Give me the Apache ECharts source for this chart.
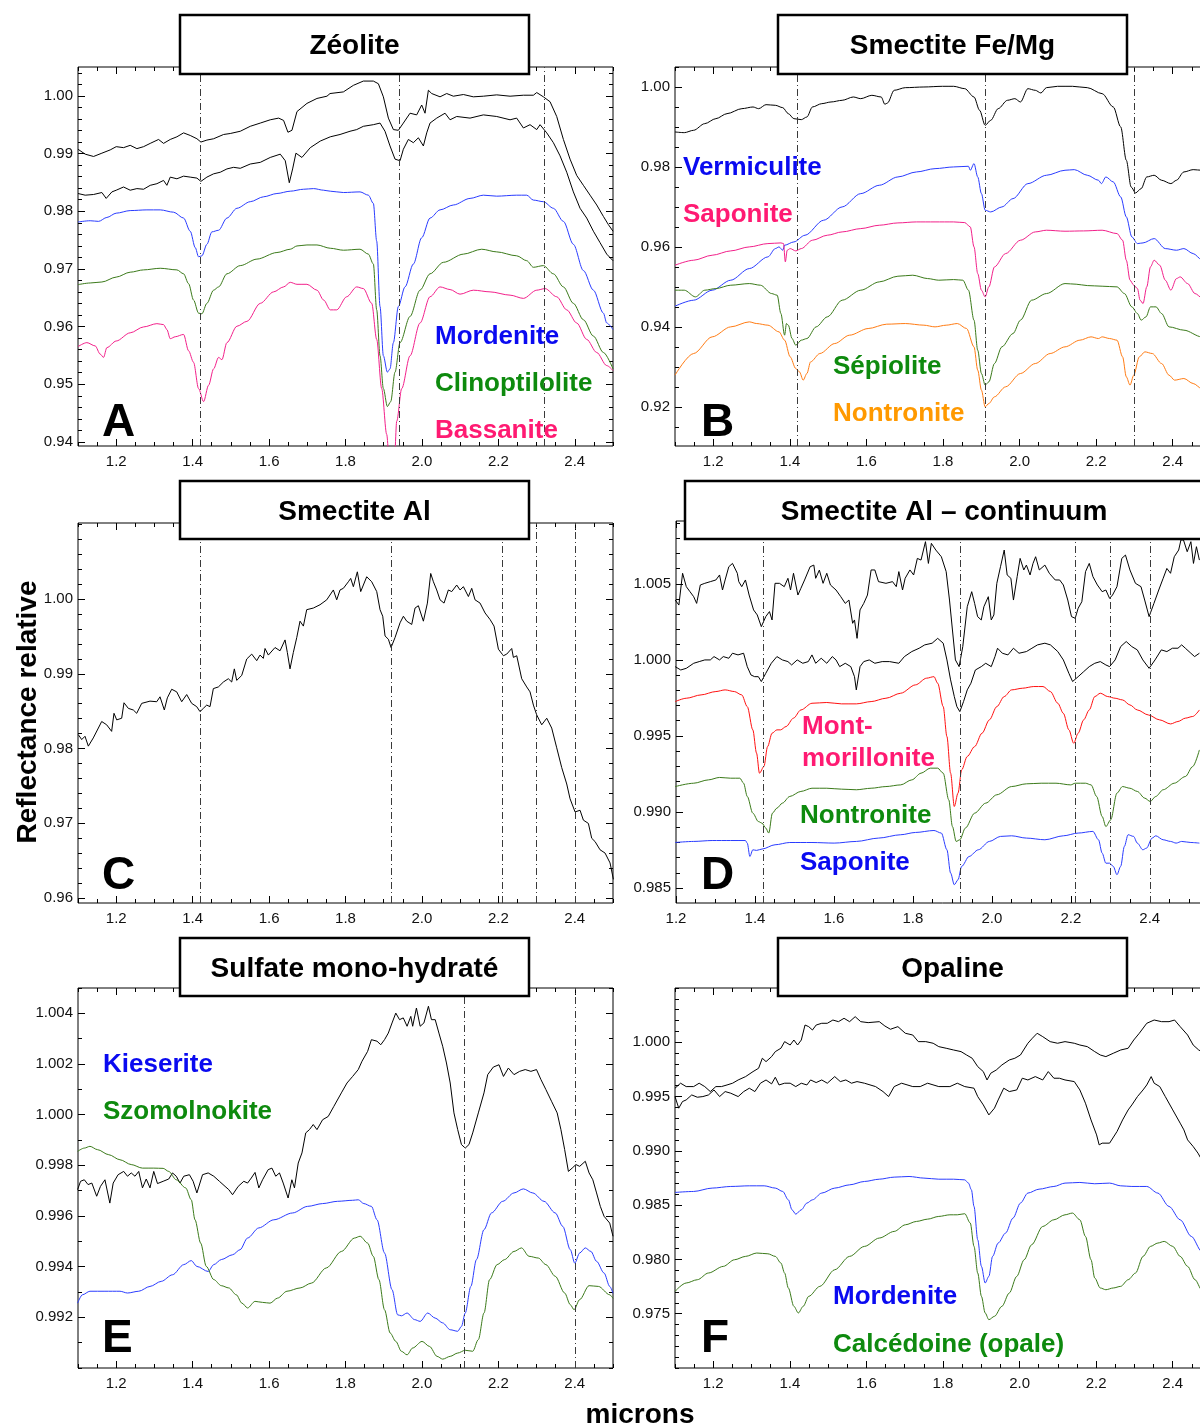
<!DOCTYPE html>
<html>
<head>
<meta charset="utf-8">
<title>Spectres</title>
<script src="https://cdn.jsdelivr.net/npm/echarts@6/dist/echarts.min.js"></script>
<style>
  html, body { margin: 0; padding: 0; background: #fff; overflow: hidden; }
  /* a bit wider than the window: panels B, D and F run past the right edge */
  #chart { width: 1216px; height: 1428px; }
</style>
</head>
<body>
<div id="chart"></div>
<script>
// ---- tick labels ----
const xLabels = [1.2, 1.4, 1.6, 1.8, 2.0, 2.2, 2.4];
const yLabelsA = [0.94, 0.95, 0.96, 0.97, 0.98, 0.99, 1.00];
const yLabelsB = [0.92, 0.94, 0.96, 0.98, 1.00];
const yLabelsC = [0.96, 0.97, 0.98, 0.99, 1.00];
const yLabelsD = [0.985, 0.990, 0.995, 1.000, 1.005];
const yLabelsE = [0.992, 0.994, 0.996, 0.998, 1.000, 1.002, 1.004];
const yLabelsF = [0.975, 0.980, 0.985, 0.990, 0.995, 1.000];

// ---- absorption band markers (microns) ----
const bandsA = [1.417, 1.939, 2.321];
const bandsB = [1.419, 1.91, 2.30];
const bandsC = [1.42, 1.92, 2.211, 2.30, 2.397];
const bandsD = [1.418, 1.919, 2.21, 2.299, 2.398];
const bandsE = [2.109, 2.405];

// ---- A : Zeolite ----
const zeoA1 = [[1.1,0.99074],[1.1188,0.98989],[1.1407,0.98949],[1.1625,0.99006],[1.1843,0.99063],[1.2,0.99119],[1.2192,0.99102],[1.2366,0.99142],[1.2541,0.99085],[1.2716,0.99119],[1.289,0.99176],[1.3108,0.99244],[1.3239,0.99176],[1.3414,0.99244],[1.3588,0.9929],[1.3763,0.99358],[1.3937,0.99313],[1.4112,0.99256],[1.4216,0.99199],[1.4373,0.99233],[1.4548,0.99256],[1.481,0.9933],[1.4984,0.99347],[1.5246,0.99386],[1.5508,0.99472],[1.577,0.99528],[1.6031,0.99585],[1.625,0.99614],[1.638,0.99574],[1.6494,0.99369],[1.6599,0.99403],[1.673,0.99727],[1.6991,0.99869],[1.7253,0.99955],[1.7515,0.99994],[1.7595,1.0004],[1.7944,1.00068],[1.8206,1.00182],[1.8467,1.00256],[1.8729,1.00256],[1.886,1.0021],[1.8991,0.99983],[1.9122,0.99614],[1.9253,0.99415],[1.9383,0.99403],[1.9514,0.99528],[1.9689,0.99699],[1.9863,0.9967],[1.9994,0.99841],[2.0081,0.99699],[2.0169,1.00097],[2.0256,1.0004],[2.0474,0.99983],[2.0648,1.0004],[2.0823,0.99994],[2.1085,1.00023],[2.1346,0.99983],[2.1608,0.99994],[2.1957,1.00017],[2.2306,0.99994],[2.2655,1.00011],[2.2917,1.00011],[2.3004,1.00057],[2.3178,0.99983],[2.3353,0.99898],[2.3527,0.99642],[2.3702,0.99244],[2.3876,0.98903],[2.4051,0.98619],[2.4225,0.98449],[2.44,0.98278],[2.4574,0.98108],[2.4749,0.97909],[2.488,0.97767],[2.5,0.97653]];
const zeoA2 = [[1.1,0.98307],[1.1188,0.98278],[1.1407,0.9829],[1.1625,0.98324],[1.1738,0.98222],[1.1887,0.98335],[1.2,0.98364],[1.2192,0.9842],[1.2366,0.98364],[1.2541,0.98392],[1.2716,0.98381],[1.289,0.98449],[1.3065,0.98477],[1.3239,0.98534],[1.3326,0.98449],[1.3414,0.98591],[1.3588,0.98562],[1.3763,0.98608],[1.3937,0.98591],[1.4112,0.98574],[1.4216,0.98517],[1.4373,0.98591],[1.4548,0.98648],[1.4723,0.98676],[1.4897,0.98733],[1.5072,0.98761],[1.5246,0.98744],[1.5508,0.98818],[1.577,0.98847],[1.6031,0.98932],[1.6293,0.98989],[1.6424,0.98875],[1.6529,0.98494],[1.6616,0.98733],[1.6703,0.99006],[1.686,0.98932],[1.7079,0.99102],[1.734,0.99216],[1.7602,0.9929],[1.7857,0.9933],[1.8118,0.99386],[1.8293,0.99415],[1.8467,0.99472],[1.8729,0.995],[1.8904,0.99528],[1.9034,0.99386],[1.9165,0.99131],[1.9296,0.98903],[1.9427,0.98875],[1.9514,0.99074],[1.9645,0.99244],[1.9776,0.99188],[1.9907,0.99273],[2.0038,0.99131],[2.0125,0.99358],[2.0212,0.99528],[2.0387,0.99614],[2.0605,0.99699],[2.0736,0.99585],[2.091,0.99642],[2.1259,0.99614],[2.1608,0.9967],[2.1957,0.99642],[2.2306,0.99585],[2.248,0.99614],[2.2655,0.99443],[2.2829,0.995],[2.3004,0.99415],[2.3091,0.995],[2.3266,0.99358],[2.344,0.99188],[2.3614,0.9896],[2.3789,0.98676],[2.3963,0.98335],[2.4138,0.98051],[2.4312,0.97881],[2.4487,0.97653],[2.4661,0.97455],[2.4836,0.97256],[2.5,0.97142]];
const mordeniteA = [[1.1,0.97813],[1.1319,0.97835],[1.1538,0.97824],[1.1756,0.97892],[1.2,0.97966],[1.2366,0.98011],[1.2803,0.98023],[1.3152,0.98023],[1.3501,0.97983],[1.3763,0.97881],[1.3937,0.97653],[1.4068,0.97369],[1.4155,0.9721],[1.4243,0.97227],[1.4373,0.97426],[1.4504,0.97642],[1.4679,0.9767],[1.4897,0.97881],[1.5159,0.98051],[1.5508,0.98165],[1.5857,0.9825],[1.6206,0.98307],[1.6555,0.98347],[1.6904,0.98381],[1.7166,0.98392],[1.7428,0.98364],[1.7602,0.98347],[1.7944,0.98324],[1.838,0.98335],[1.8598,0.98278],[1.8729,0.98136],[1.8816,0.97483],[1.8904,0.96347],[1.8991,0.95494],[1.9096,0.9521],[1.9165,0.95267],[1.9253,0.95722],[1.9383,0.96347],[1.9558,0.96688],[1.9776,0.97085],[1.9994,0.9754],[2.0212,0.97881],[2.0474,0.98023],[2.0823,0.98108],[2.1259,0.98222],[2.1608,0.98278],[2.1957,0.98261],[2.248,0.98278],[2.2742,0.98278],[2.2917,0.98193],[2.3178,0.98165],[2.344,0.98051],[2.3702,0.97824],[2.3963,0.97426],[2.4225,0.96972],[2.4487,0.96631],[2.4749,0.96233],[2.4836,0.96062],[2.5,0.95949]];
const clinoA = [[1.1,0.96727],[1.1319,0.96756],[1.1625,0.96773],[1.2,0.96858],[1.2366,0.96943],[1.2716,0.96983],[1.3152,0.97011],[1.3588,0.96983],[1.3763,0.96915],[1.3894,0.96744],[1.4024,0.9646],[1.4155,0.96233],[1.4243,0.96222],[1.4373,0.96403],[1.4548,0.96631],[1.4679,0.96688],[1.4897,0.96915],[1.5246,0.97057],[1.5682,0.9717],[1.6206,0.97284],[1.6555,0.97341],[1.673,0.97398],[1.6991,0.97415],[1.7253,0.97415],[1.7602,0.97358],[1.7944,0.97324],[1.838,0.97341],[1.8598,0.97256],[1.8729,0.97085],[1.8816,0.9629],[1.8904,0.95494],[1.8991,0.94926],[1.9096,0.94614],[1.9183,0.94699],[1.9296,0.9521],[1.9427,0.95722],[1.9689,0.96176],[1.995,0.96631],[2.0212,0.96915],[2.0561,0.97114],[2.1085,0.97256],[2.1564,0.97341],[2.1957,0.97295],[2.248,0.97227],[2.2742,0.97142],[2.2917,0.97028],[2.3178,0.97057],[2.344,0.96915],[2.3702,0.96688],[2.3963,0.96403],[2.4225,0.96119],[2.4487,0.95835],[2.4749,0.95551],[2.5,0.95267]];
const bassaniteA = [[1.1,0.95653],[1.1232,0.95722],[1.145,0.95665],[1.1581,0.95523],[1.1668,0.95466],[1.1756,0.95636],[1.2,0.9575],[1.2366,0.95892],[1.2716,0.95994],[1.3065,0.96051],[1.3239,0.96034],[1.3326,0.95949],[1.3414,0.9579],[1.3545,0.95824],[1.3763,0.95864],[1.3894,0.9558],[1.4024,0.95381],[1.4155,0.94926],[1.4286,0.94699],[1.4417,0.94983],[1.4548,0.95267],[1.4679,0.95466],[1.4766,0.95426],[1.4897,0.95722],[1.5159,0.96006],[1.5421,0.96091],[1.577,0.96403],[1.6119,0.96602],[1.638,0.96688],[1.6555,0.96767],[1.673,0.96733],[1.6991,0.96733],[1.7253,0.96631],[1.7428,0.9646],[1.7602,0.9629],[1.777,0.9629],[1.8031,0.96517],[1.8293,0.96688],[1.8467,0.96659],[1.8686,0.96403],[1.8816,0.95778],[1.8947,0.94926],[1.9078,0.94131],[1.9165,0.93449],[1.927,0.93506],[1.934,0.94358],[1.9471,0.94926],[1.9689,0.95494],[1.995,0.96062],[2.0212,0.96517],[2.0474,0.96688],[2.0736,0.96642],[2.0997,0.96562],[2.1346,0.96631],[2.1783,0.96602],[2.2306,0.96545],[2.2655,0.96489],[2.3004,0.96631],[2.3222,0.96659],[2.3527,0.96517],[2.3789,0.9629],[2.4051,0.96062],[2.4312,0.95778],[2.4574,0.95551],[2.4836,0.95324],[2.5,0.95239]];

// ---- B : Smectite Fe/Mg ----
const femgB = [[1.1,0.98875],[1.1243,0.98858],[1.1486,0.98917],[1.1777,0.99083],[1.2068,0.99208],[1.2359,0.99333],[1.2747,0.99458],[1.3038,0.995],[1.3184,0.99458],[1.3378,0.99558],[1.362,0.99542],[1.3814,0.99483],[1.396,0.99333],[1.4105,0.99208],[1.4299,0.99183],[1.4445,0.9925],[1.459,0.995],[1.4833,0.99583],[1.5075,0.99625],[1.5366,0.99667],[1.5657,0.9975],[1.5851,0.99708],[1.6142,0.99792],[1.6385,0.9975],[1.6482,0.99567],[1.655,0.996],[1.6725,0.99917],[1.7016,0.99983],[1.7501,1.0],[1.7986,1.00017],[1.8277,1.00017],[1.8568,0.99958],[1.881,0.9975],[1.8956,0.99417],[1.9101,0.99042],[1.9247,0.99167],[1.9441,0.99458],[1.9683,0.99667],[1.9877,0.99708],[2.0023,0.99625],[2.0217,0.99958],[2.0411,0.99917],[2.0557,0.9985],[2.0702,0.99983],[2.0993,1.00017],[2.1381,1.00017],[2.1769,0.99983],[2.2157,0.99833],[2.2448,0.995],[2.2642,0.99],[2.2788,0.98167],[2.2914,0.975],[2.303,0.9735],[2.3176,0.97458],[2.3322,0.9775],[2.3515,0.97792],[2.371,0.97667],[2.3952,0.97583],[2.4098,0.97667],[2.4292,0.97875],[2.4534,0.97933],[2.4757,0.97917],[2.5,0.9785]];
const vermiculiteB = [[1.1,0.94517],[1.1486,0.94667],[1.1971,0.94917],[1.2456,0.95167],[1.2941,0.95458],[1.3426,0.9575],[1.362,0.95958],[1.3717,0.96],[1.3814,0.95917],[1.3863,0.96042],[1.4105,0.96125],[1.4396,0.96292],[1.4881,0.96667],[1.5366,0.97],[1.5851,0.97333],[1.6336,0.97542],[1.6822,0.9775],[1.7307,0.97875],[1.7792,0.97958],[1.8277,0.98],[1.8665,0.98017],[1.8713,0.97917],[1.881,0.98083],[1.8907,0.9775],[1.9004,0.97333],[1.9101,0.96917],[1.9247,0.96875],[1.9538,0.97],[1.9829,0.97208],[2.0217,0.97583],[2.0702,0.97792],[2.1187,0.97917],[2.143,0.97933],[2.1769,0.97792],[2.206,0.97667],[2.2138,0.97583],[2.2254,0.9775],[2.2448,0.97625],[2.2642,0.9725],[2.2788,0.9675],[2.2933,0.9625],[2.3079,0.96083],[2.3225,0.961],[2.3515,0.96208],[2.3806,0.95958],[2.4098,0.95917],[2.4292,0.95958],[2.4534,0.95833],[2.4757,0.95683],[2.5,0.9555]];
const saponiteB = [[1.1,0.95542],[1.1486,0.95667],[1.1971,0.95792],[1.2456,0.959],[1.2941,0.96],[1.3426,0.96083],[1.3766,0.961],[1.3834,0.96083],[1.3882,0.95625],[1.3931,0.95917],[1.4008,0.95958],[1.4154,0.959],[1.4299,0.95958],[1.459,0.96167],[1.4978,0.96292],[1.5366,0.96375],[1.5851,0.96458],[1.6336,0.96542],[1.6822,0.966],[1.7307,0.96625],[1.7792,0.96625],[1.8277,0.96625],[1.8568,0.96608],[1.8713,0.965],[1.881,0.96],[1.8907,0.95333],[1.9004,0.94917],[1.9101,0.9475],[1.9198,0.95],[1.9344,0.955],[1.9635,0.95833],[2.0023,0.96167],[2.0411,0.96375],[2.0702,0.96417],[2.1187,0.96392],[2.1672,0.964],[2.2157,0.96417],[2.2545,0.96333],[2.2691,0.96167],[2.2788,0.95667],[2.2885,0.95167],[2.2982,0.95042],[2.3079,0.94958],[2.3147,0.94667],[2.3225,0.94583],[2.3322,0.95],[2.3419,0.955],[2.3515,0.95667],[2.3661,0.95542],[2.3806,0.95167],[2.3952,0.94917],[2.4098,0.95208],[2.4195,0.9525],[2.4389,0.95083],[2.4583,0.94833],[2.4757,0.94733],[2.5,0.9465]];
const sepioliteB = [[1.1,0.94917],[1.1243,0.94917],[1.1534,0.9475],[1.1777,0.94917],[1.2068,0.94958],[1.2456,0.95042],[1.2941,0.95083],[1.3232,0.95042],[1.3523,0.94833],[1.3669,0.94792],[1.3766,0.94333],[1.3863,0.93792],[1.3911,0.94083],[1.396,0.94042],[1.4057,0.93708],[1.4154,0.93542],[1.4299,0.93667],[1.4445,0.93708],[1.4687,0.94],[1.4978,0.9425],[1.5366,0.94667],[1.5851,0.94917],[1.6336,0.95125],[1.6822,0.95267],[1.721,0.95292],[1.7598,0.95208],[1.7889,0.95167],[1.8277,0.95183],[1.8519,0.95167],[1.8665,0.94917],[1.881,0.94167],[1.8907,0.93417],[1.9004,0.92833],[1.9101,0.92542],[1.9198,0.92625],[1.9344,0.93083],[1.9538,0.935],[1.9829,0.93833],[2.0023,0.94167],[2.0314,0.94667],[2.0702,0.94833],[2.1187,0.95083],[2.1478,0.95067],[2.1769,0.95033],[2.2157,0.95017],[2.2545,0.95],[2.2739,0.94833],[2.2933,0.945],[2.3079,0.94333],[2.3176,0.94167],[2.3302,0.9425],[2.3419,0.945],[2.3564,0.945],[2.371,0.94333],[2.3904,0.94],[2.4292,0.93917],[2.4757,0.9375],[2.5,0.9368]];
const nontroniteB = [[1.1,0.92792],[1.1486,0.93333],[1.1971,0.9375],[1.2456,0.94],[1.2941,0.94125],[1.3135,0.94083],[1.3426,0.94042],[1.3717,0.93875],[1.3863,0.93667],[1.4008,0.9325],[1.4154,0.92958],[1.4251,0.92875],[1.4348,0.92667],[1.4445,0.92833],[1.4542,0.93125],[1.4784,0.93333],[1.5172,0.93583],[1.556,0.93792],[1.6045,0.93958],[1.653,0.94067],[1.7016,0.94083],[1.7501,0.94042],[1.7792,0.94],[1.8083,0.94042],[1.8374,0.94083],[1.8616,0.93958],[1.881,0.935],[1.8907,0.92917],[1.9004,0.92417],[1.9101,0.92],[1.9198,0.92083],[1.9344,0.9225],[1.9635,0.925],[2.0023,0.92833],[2.0411,0.93083],[2.0799,0.93333],[2.1187,0.935],[2.1575,0.93667],[2.1866,0.9375],[2.206,0.93708],[2.2157,0.9375],[2.2351,0.93708],[2.2545,0.93667],[2.2691,0.9325],[2.2788,0.9275],[2.2885,0.92542],[2.2982,0.92792],[2.3127,0.9325],[2.3273,0.93375],[2.3467,0.93333],[2.371,0.93083],[2.3904,0.92792],[2.4049,0.92667],[2.4292,0.92708],[2.4534,0.92583],[2.4757,0.92458],[2.5,0.9238]];

// ---- C : Smectite Al ----
const smAlC = [[1.1008,0.98185],[1.1097,0.98119],[1.1183,0.98163],[1.127,0.98031],[1.14,0.98141],[1.162,0.98361],[1.175,0.98317],[1.188,0.98229],[1.1942,0.98471],[1.2013,0.98383],[1.2143,0.98405],[1.2204,0.98612],[1.2317,0.98537],[1.2448,0.98515],[1.2536,0.98471],[1.2667,0.98604],[1.2884,0.98634],[1.306,0.98626],[1.3146,0.98692],[1.3259,0.98515],[1.3338,0.98678],[1.3452,0.98793],[1.3583,0.98758],[1.3714,0.98626],[1.3844,0.98722],[1.3975,0.98604],[1.4106,0.9856],[1.4193,0.98493],[1.428,0.98537],[1.4368,0.98581],[1.4455,0.9856],[1.4542,0.98802],[1.4673,0.98824],[1.4804,0.9889],[1.4934,0.98934],[1.5022,0.9889],[1.5091,0.99066],[1.5153,0.98912],[1.5284,0.98978],[1.5415,0.99198],[1.5546,0.99264],[1.5677,0.99176],[1.5763,0.99251],[1.585,0.99207],[1.5894,0.99339],[1.5981,0.99251],[1.6156,0.99352],[1.6287,0.99308],[1.6418,0.99454],[1.6478,0.99286],[1.6548,0.99066],[1.6635,0.99286],[1.6724,0.99485],[1.681,0.99705],[1.6898,0.99639],[1.6985,0.99859],[1.7159,0.99881],[1.7333,0.99925],[1.7509,0.99991],[1.7682,1.00123],[1.777,0.99991],[1.7857,1.00123],[1.7944,1.00145],[1.8075,1.00233],[1.8136,1.00278],[1.8206,1.00167],[1.831,1.00366],[1.8398,1.00101],[1.8555,1.003],[1.8686,1.00233],[1.8817,1.00101],[1.8904,0.99859],[1.8974,0.99771],[1.9035,0.99507],[1.9122,0.99463],[1.9192,0.99352],[1.9296,0.99485],[1.9427,0.99683],[1.9515,0.99771],[1.9602,0.99705],[1.9733,0.99661],[1.982,0.99881],[1.9907,0.99912],[2.0038,0.99705],[2.0143,0.99947],[2.023,1.00344],[2.03,1.00233],[2.0387,1.00123],[2.0474,0.99991],[2.0579,0.99947],[2.0692,1.00123],[2.078,1.00101],[2.091,1.00189],[2.0998,1.00123],[2.1085,1.00167],[2.1216,1.00035],[2.1303,1.00145],[2.139,0.99991],[2.1521,0.99947],[2.1652,0.99815],[2.1783,0.99727],[2.1887,0.99639],[2.2001,0.9933],[2.2132,0.99242],[2.2219,0.99264],[2.235,0.99339],[2.2393,0.9922],[2.2481,0.99242],[2.2611,0.98934],[2.2742,0.98824],[2.2829,0.98758],[2.2917,0.98581],[2.3004,0.98449],[2.3135,0.98317],[2.3266,0.98405],[2.3396,0.98273],[2.3527,0.98009],[2.3658,0.97744],[2.3789,0.97524],[2.3876,0.97326],[2.4007,0.9715],[2.4138,0.97172],[2.4225,0.9704],[2.4356,0.96996],[2.4443,0.96797],[2.453,0.96753],[2.4661,0.96643],[2.4792,0.96599],[2.4923,0.96467],[2.501,0.96247]];

// ---- D : Smectite Al - continuum ----
const contD1 = [[1.198,1.00394],[1.2073,1.00361],[1.2167,1.0057],[1.2261,1.00482],[1.2354,1.00449],[1.2448,1.00416],[1.2523,1.00372],[1.2616,1.00493],[1.2729,1.00504],[1.2869,1.00515],[1.301,1.00526],[1.3103,1.00559],[1.3178,1.0046],[1.3244,1.00526],[1.3337,1.00613],[1.3431,1.00635],[1.3553,1.0057],[1.359,1.00515],[1.3665,1.00482],[1.3759,1.00526],[1.3852,1.00427],[1.3965,1.00329],[1.4058,1.00296],[1.4161,1.00219],[1.4274,1.00285],[1.4367,1.00318],[1.4433,1.00263],[1.4508,1.00504],[1.462,1.00504],[1.4742,1.00482],[1.4835,1.00537],[1.4901,1.0046],[1.4976,1.0057],[1.5088,1.00427],[1.5163,1.00471],[1.5257,1.00526],[1.5397,1.00613],[1.5491,1.00624],[1.5538,1.00537],[1.5631,1.00591],[1.5725,1.00504],[1.5819,1.0057],[1.5912,1.00493],[1.6053,1.0046],[1.6174,1.00416],[1.6287,1.00372],[1.638,1.00394],[1.6474,1.00241],[1.6521,1.00263],[1.6586,1.00142],[1.6661,1.00329],[1.6755,1.00372],[1.6849,1.00427],[1.6942,1.00592],[1.7036,1.00592],[1.7129,1.00515],[1.7317,1.00504],[1.7485,1.00515],[1.7579,1.00482],[1.7644,1.00581],[1.7738,1.0046],[1.7804,1.00537],[1.7925,1.00592],[1.8019,1.00559],[1.8113,1.00668],[1.8206,1.00657],[1.8319,1.00778],[1.8393,1.00635],[1.8468,1.00767],[1.8581,1.00723],[1.8721,1.00679],[1.8843,1.00581],[1.8927,1.00394],[1.9002,1.00197],[1.9077,1.0],[1.9171,0.99956],[1.9264,1.00088],[1.9377,1.0035],[1.949,1.00449],[1.9564,1.00372],[1.9639,1.00285],[1.9732,1.00263],[1.9798,1.0035],[1.991,1.00416],[1.9985,1.00263],[2.0051,1.00296],[2.0126,1.00504],[2.0219,1.00613],[2.0313,1.00723],[2.0388,1.00559],[2.0482,1.00537],[2.0547,1.00394],[2.0641,1.00548],[2.0716,1.00668],[2.0809,1.00592],[2.0875,1.00624],[2.0968,1.00559],[2.1043,1.00635],[2.1109,1.00679],[2.1202,1.00592],[2.1343,1.00624],[2.1455,1.0057],[2.1605,1.00526],[2.1717,1.00526],[2.1811,1.00493],[2.1923,1.00394],[2.2017,1.00285],[2.2111,1.00274],[2.2186,1.0034],[2.2279,1.00383],[2.2373,1.00581],[2.2467,1.00635],[2.256,1.00548],[2.2673,1.00493],[2.2794,1.00449],[2.2888,1.0046],[2.2982,1.00405],[2.3057,1.00427],[2.3169,1.00482],[2.3291,1.00668],[2.3384,1.0069],[2.3497,1.00592],[2.3637,1.00504],[2.3777,1.00482],[2.3871,1.00394],[2.3983,1.00285],[2.4105,1.00372],[2.4227,1.0046],[2.4339,1.00537],[2.4433,1.00602],[2.4526,1.0057],[2.462,1.00679],[2.4732,1.00723],[2.4789,1.00789],[2.4854,1.00789],[2.4948,1.00712],[2.5041,1.00778],[2.5107,1.00635],[2.5182,1.00745],[2.5257,1.00657]];
const contD2 = [[1.198,0.99956],[1.212,0.99934],[1.2261,0.99945],[1.2448,0.99978],[1.2588,0.99989],[1.2729,1.0],[1.2869,1.0],[1.2963,1.00022],[1.3103,1.0],[1.3197,1.00022],[1.3337,1.00011],[1.3431,1.00044],[1.3571,1.00033],[1.3712,1.00044],[1.3805,0.99956],[1.3899,0.99901],[1.3993,0.9989],[1.4086,0.9989],[1.4161,0.99858],[1.4274,0.99912],[1.4414,0.99978],[1.4555,1.00022],[1.4695,1.0],[1.4835,0.99989],[1.4929,0.99967],[1.507,1.0],[1.521,0.99978],[1.535,0.99989],[1.5444,1.00033],[1.5538,0.99978],[1.5678,1.00011],[1.5819,0.99978],[1.5959,1.00022],[1.6053,1.0],[1.6146,0.99956],[1.6287,0.99978],[1.6427,0.99956],[1.6521,0.9989],[1.6567,0.99803],[1.6661,0.99956],[1.6755,0.99989],[1.6895,1.0],[1.7036,0.99978],[1.7223,0.99989],[1.741,0.99989],[1.7644,0.99978],[1.7785,1.00022],[1.7972,1.00055],[1.8159,1.00077],[1.83,1.00099],[1.8487,1.0011],[1.8628,1.00142],[1.8768,1.0011],[1.8862,1.0],[1.8955,0.99869],[1.9049,0.99759],[1.9114,0.99693],[1.9189,0.9966],[1.9283,0.99726],[1.9377,0.99803],[1.947,0.99847],[1.9583,0.99934],[1.9732,0.99956],[1.9845,0.99978],[1.9985,0.99956],[2.0079,1.00022],[2.0144,1.00077],[2.0266,1.00044],[2.0407,1.00033],[2.0547,1.00077],[2.0688,1.00044],[2.0875,1.00055],[2.1015,1.00077],[2.1156,1.00099],[2.1343,1.0011],[2.1483,1.00099],[2.167,1.00055],[2.1811,1.0],[2.1951,0.99912],[2.2045,0.99858],[2.2186,0.9989],[2.2326,0.99923],[2.2467,0.99956],[2.2607,0.99978],[2.2747,0.99989],[2.2888,0.99967],[2.2982,0.99956],[2.3122,1.0],[2.3263,1.00088],[2.3403,1.00121],[2.3544,1.00088],[2.3684,1.00066],[2.3824,1.0],[2.3983,0.99945],[2.4133,1.0],[2.4292,1.00066],[2.4433,1.00055],[2.4573,1.00077],[2.4714,1.00077],[2.4808,1.00099],[2.4901,1.00077],[2.5041,1.00044],[2.5135,1.00022],[2.5257,1.00044]];
const montmorilloniteD = [[1.198,0.99726],[1.2261,0.99748],[1.2635,0.9977],[1.301,0.99792],[1.3244,0.99803],[1.3478,0.99792],[1.3665,0.9977],[1.3805,0.99693],[1.3946,0.9954],[1.404,0.99387],[1.4114,0.99255],[1.4227,0.99299],[1.432,0.9943],[1.4433,0.99518],[1.4555,0.9954],[1.4648,0.9954],[1.4789,0.99562],[1.4976,0.99617],[1.5163,0.99671],[1.5444,0.99715],[1.5819,0.9972],[1.6193,0.99711],[1.6568,0.99711],[1.6942,0.99726],[1.7317,0.99748],[1.7691,0.99781],[1.8066,0.99836],[1.8347,0.9988],[1.8534,0.9989],[1.8628,0.99847],[1.8768,0.99693],[1.8862,0.99496],[1.8955,0.99255],[1.9049,0.99036],[1.9143,0.99124],[1.9236,0.99277],[1.9377,0.99365],[1.9564,0.9943],[1.9751,0.99518],[1.9938,0.99606],[2.0126,0.99693],[2.0313,0.99759],[2.05,0.99803],[2.0781,0.99814],[2.1062,0.99825],[2.1296,0.99825],[2.1483,0.99792],[2.167,0.99715],[2.1811,0.99649],[2.1951,0.9954],[2.2073,0.99452],[2.2186,0.99518],[2.2326,0.99606],[2.2467,0.99671],[2.2607,0.99759],[2.2747,0.99781],[2.2935,0.99759],[2.3122,0.99748],[2.3309,0.99737],[2.3497,0.99704],[2.3684,0.99671],[2.3965,0.99638],[2.4246,0.99606],[2.4526,0.99579],[2.4714,0.99595],[2.4901,0.99617],[2.5088,0.99628],[2.5257,0.99671]];
const nontroniteD = [[1.198,0.99167],[1.2448,0.99189],[1.2822,0.99211],[1.3103,0.99227],[1.3384,0.99222],[1.3618,0.99222],[1.3712,0.99189],[1.3805,0.99102],[1.3946,0.98992],[1.4086,0.98937],[1.418,0.98926],[1.4274,0.98894],[1.4349,0.98861],[1.4442,0.98992],[1.4555,0.99025],[1.4695,0.99058],[1.4882,0.99102],[1.5163,0.99135],[1.5444,0.99156],[1.5819,0.99156],[1.6193,0.9915],[1.6568,0.99146],[1.6942,0.99156],[1.7317,0.99167],[1.7691,0.99178],[1.7972,0.99211],[1.8206,0.99255],[1.844,0.99288],[1.8628,0.99288],[1.8768,0.99255],[1.8908,0.9908],[1.9002,0.98904],[1.9096,0.98806],[1.9189,0.98817],[1.933,0.98894],[1.9564,0.98992],[1.9845,0.99058],[2.0126,0.99113],[2.05,0.99167],[2.0875,0.99185],[2.1249,0.99189],[2.1624,0.99189],[2.1998,0.99178],[2.2111,0.99189],[2.2373,0.99189],[2.2513,0.99178],[2.2654,0.99102],[2.2794,0.9897],[2.2888,0.98904],[2.301,0.98948],[2.3169,0.99124],[2.3309,0.99167],[2.3497,0.99156],[2.3684,0.99135],[2.3871,0.99091],[2.4011,0.99069],[2.4152,0.99102],[2.4339,0.99146],[2.462,0.99189],[2.4901,0.99233],[2.5088,0.99299],[2.5257,0.99408]];
const saponiteD = [[1.198,0.98799],[1.2448,0.98806],[1.2916,0.98812],[1.3384,0.98812],[1.3759,0.98812],[1.3805,0.98795],[1.3871,0.98707],[1.3946,0.98751],[1.404,0.98747],[1.418,0.98756],[1.4508,0.98784],[1.4882,0.98799],[1.5444,0.98799],[1.6006,0.98795],[1.6568,0.98806],[1.7129,0.98828],[1.7691,0.9885],[1.8066,0.98865],[1.8534,0.98878],[1.8721,0.98861],[1.8862,0.98751],[1.8955,0.98598],[1.9049,0.98521],[1.9143,0.98554],[1.9236,0.98642],[1.9423,0.98707],[1.9657,0.98751],[1.9938,0.98806],[2.0219,0.98839],[2.05,0.98843],[2.0875,0.98828],[2.1343,0.98817],[2.1811,0.98843],[2.2186,0.98861],[2.256,0.98872],[2.2701,0.98817],[2.2794,0.98729],[2.2888,0.98663],[2.2982,0.98663],[2.3075,0.98642],[2.3169,0.98587],[2.3263,0.98642],[2.3356,0.98773],[2.345,0.9885],[2.359,0.98839],[2.3684,0.98795],[2.3824,0.98751],[2.3918,0.98762],[2.4059,0.98828],[2.4152,0.98843],[2.4339,0.98817],[2.4526,0.98806],[2.4667,0.98795],[2.4808,0.98806],[2.5041,0.98799],[2.5257,0.98795]];

// ---- E : Sulfate mono-hydrate ----
const sulfE = [[1.0989,0.99704],[1.1067,0.99737],[1.1165,0.99743],[1.1263,0.99724],[1.1362,0.9973],[1.1489,0.99678],[1.1588,0.99717],[1.1705,0.99743],[1.1833,0.99651],[1.1921,0.9973],[1.2049,0.99763],[1.2196,0.99776],[1.2295,0.99757],[1.2393,0.9977],[1.2491,0.99757],[1.2589,0.99776],[1.2687,0.99711],[1.2786,0.99746],[1.2884,0.99711],[1.2982,0.99776],[1.308,0.99728],[1.3228,0.99737],[1.3375,0.99746],[1.3473,0.9977],[1.3571,0.99757],[1.3669,0.9973],[1.3768,0.99757],[1.3915,0.99763],[1.4013,0.99737],[1.4111,0.99691],[1.4259,0.99763],[1.4406,0.9977],[1.4553,0.99757],[1.47,0.99737],[1.4848,0.99717],[1.4946,0.99704],[1.5044,0.99684],[1.5192,0.99717],[1.5339,0.99737],[1.5437,0.9973],[1.5535,0.9975],[1.5633,0.99772],[1.5732,0.99711],[1.583,0.99743],[1.5977,0.99783],[1.6075,0.99789],[1.6174,0.99757],[1.6272,0.9977],[1.637,0.9973],[1.6498,0.99671],[1.6596,0.99743],[1.6665,0.99711],[1.6763,0.99809],[1.6861,0.99849],[1.6959,0.99928],[1.7057,0.99941],[1.7156,0.99961],[1.7254,0.99941],[1.7401,0.9998],[1.7548,0.99993],[1.7696,1.00033],[1.7892,1.00086],[1.8039,1.00125],[1.8187,1.00151],[1.8334,1.00178],[1.8432,1.00211],[1.8579,1.0025],[1.8678,1.00296],[1.8825,1.0029],[1.8923,1.00276],[1.9021,1.00296],[1.912,1.00322],[1.9218,1.00362],[1.9316,1.00401],[1.9414,1.00375],[1.9512,1.00382],[1.9611,1.00349],[1.9709,1.00388],[1.9758,1.00349],[1.9856,1.00421],[1.9954,1.00349],[2.0052,1.00362],[2.017,1.00428],[2.0249,1.00375],[2.0347,1.00375],[2.0445,1.00322],[2.0543,1.0027],[2.0642,1.00204],[2.074,1.00125],[2.0838,1.00007],[2.0936,0.99941],[2.1034,0.99882],[2.1133,0.99868],[2.1231,0.99882],[2.1329,0.99928],[2.1476,1.00007],[2.1624,1.00086],[2.1722,1.00158],[2.1869,1.00188],[2.2017,1.00197],[2.2134,1.00151],[2.2262,1.00184],[2.2409,1.00158],[2.2557,1.00171],[2.2704,1.00178],[2.2851,1.00171],[2.2998,1.00178],[2.3116,1.00138],[2.3244,1.00099],[2.3391,1.00053],[2.3539,1.00007],[2.3637,0.99941],[2.3735,0.99862],[2.3833,0.99776],[2.3931,0.99789],[2.403,0.99803],[2.4128,0.99796],[2.4275,0.99816],[2.4374,0.9977],[2.4472,0.99743],[2.457,0.99691],[2.4668,0.99638],[2.4766,0.99599],[2.4914,0.99572],[2.5,0.9952]];
const kieseriteE = [[1.0989,0.99256],[1.1116,0.99289],[1.1313,0.99303],[1.1705,0.99303],[1.2098,0.99303],[1.2295,0.99296],[1.2589,0.99303],[1.2884,0.99322],[1.3178,0.99342],[1.3473,0.99368],[1.3768,0.99408],[1.3964,0.99424],[1.4111,0.99401],[1.4406,0.99381],[1.4553,0.99408],[1.475,0.99428],[1.5044,0.99447],[1.5241,0.99467],[1.5437,0.99513],[1.5732,0.99553],[1.6124,0.99585],[1.6615,0.99612],[1.7008,0.99638],[1.7401,0.99649],[1.7794,0.99658],[1.8187,0.99662],[1.8334,0.99664],[1.8481,0.99649],[1.8678,0.99638],[1.8825,0.99585],[1.9021,0.99454],[1.9218,0.99309],[1.9365,0.9921],[1.9463,0.99206],[1.9611,0.99217],[1.9807,0.99191],[1.9954,0.99184],[2.0151,0.99217],[2.0347,0.99197],[2.0543,0.99178],[2.074,0.99151],[2.0936,0.99145],[2.1034,0.99164],[2.1133,0.99217],[2.128,0.99322],[2.1427,0.99428],[2.1624,0.99546],[2.182,0.99612],[2.2115,0.99658],[2.2409,0.99691],[2.2655,0.99707],[2.29,0.99691],[2.3195,0.99658],[2.3489,0.99612],[2.3686,0.99559],[2.3882,0.99467],[2.4,0.99414],[2.4128,0.99454],[2.4275,0.99474],[2.4423,0.9946],[2.457,0.99421],[2.4766,0.99375],[2.4914,0.99322],[2.5,0.99295]];
const szomolnokiteE = [[1.0989,0.99855],[1.1165,0.99868],[1.1313,0.99875],[1.1509,0.99862],[1.1804,0.99842],[1.2098,0.99822],[1.2393,0.99803],[1.2687,0.99789],[1.2982,0.99789],[1.3228,0.99788],[1.3375,0.99776],[1.3571,0.99743],[1.3817,0.99711],[1.3964,0.99664],[1.4062,0.99585],[1.421,0.99493],[1.4357,0.99401],[1.4553,0.99349],[1.475,0.99325],[1.4946,0.99316],[1.5142,0.99289],[1.529,0.99256],[1.5437,0.99237],[1.5633,0.99263],[1.583,0.99259],[1.6026,0.99256],[1.6223,0.99276],[1.6468,0.99303],[1.6812,0.99316],[1.7107,0.99335],[1.7499,0.99395],[1.7892,0.9946],[1.8236,0.99513],[1.8383,0.9952],[1.8579,0.99493],[1.8727,0.99441],[1.8874,0.99349],[1.9021,0.9923],[1.9169,0.99138],[1.9316,0.99105],[1.9463,0.99066],[1.9611,0.99052],[1.9758,0.99079],[2.0003,0.99105],[2.02,0.99085],[2.0396,0.99046],[2.0543,0.99035],[2.074,0.99046],[2.0936,0.99059],[2.1133,0.9907],[2.1329,0.99066],[2.1476,0.99112],[2.1624,0.99217],[2.1771,0.99349],[2.1967,0.99408],[2.2164,0.99428],[2.2409,0.9946],[2.2606,0.99474],[2.2802,0.99441],[2.3047,0.99434],[2.3244,0.99408],[2.3489,0.99362],[2.3735,0.99296],[2.3882,0.9925],[2.3981,0.9923],[2.4128,0.9927],[2.4374,0.99325],[2.4619,0.99322],[2.4914,0.99289],[2.5,0.99275]];

// ---- F : Opaline ----
const opalF1 = [[1.1,0.99577],[1.1146,0.99623],[1.1292,0.99592],[1.1486,0.99592],[1.1631,0.99623],[1.1777,0.99592],[1.1922,0.99546],[1.2068,0.99592],[1.2213,0.99592],[1.2359,0.99607],[1.2504,0.99623],[1.265,0.99653],[1.2844,0.99684],[1.3038,0.9973],[1.3184,0.99761],[1.3281,0.99853],[1.3378,0.99822],[1.3523,0.99868],[1.362,0.99914],[1.3766,0.99945],[1.3863,1.00006],[1.4008,0.99975],[1.4105,1.00021],[1.4202,0.99975],[1.4299,1.00021],[1.4396,1.00159],[1.4493,1.00144],[1.459,1.00113],[1.4687,1.00159],[1.4833,1.00175],[1.4978,1.00175],[1.5124,1.00205],[1.5269,1.0019],[1.5415,1.00221],[1.556,1.0019],[1.5706,1.00236],[1.5851,1.0019],[1.6045,1.00181],[1.6336,1.0019],[1.6482,1.0015],[1.6627,1.0012],[1.6822,1.00144],[1.7016,1.00083],[1.721,1.00067],[1.7355,1.00006],[1.755,1.00006],[1.7743,0.99991],[1.7889,0.9996],[1.8083,0.99945],[1.8277,0.99929],[1.8471,0.99914],[1.8616,0.99883],[1.8762,0.99853],[1.8907,0.99776],[1.9053,0.9973],[1.915,0.99653],[1.9247,0.99715],[1.9392,0.99745],[1.9538,0.99791],[1.9732,0.99837],[1.9877,0.99853],[2.0023,0.99883],[2.0217,0.99991],[2.0333,1.00037],[2.0459,1.00083],[2.0605,1.00052],[2.0799,1.00006],[2.0993,0.99991],[2.1187,1.00006],[2.1429,0.99991],[2.1575,0.99975],[2.1769,0.9996],[2.1963,0.99914],[2.2108,0.99883],[2.2254,0.99868],[2.2448,0.99899],[2.2642,0.99929],[2.2836,0.99945],[2.2982,1.00021],[2.3127,1.00083],[2.3322,1.00175],[2.3515,1.00205],[2.371,1.0019],[2.3904,1.0019],[2.4049,1.00205],[2.4195,1.00144],[2.4389,1.00067],[2.4534,0.99975],[2.4679,0.99929],[2.4757,0.99914],[2.5,0.9988]];
const opalF2 = [[1.1,0.995],[1.1098,0.99393],[1.1195,0.99454],[1.1292,0.99469],[1.1437,0.99515],[1.1583,0.99494],[1.1728,0.995],[1.1874,0.99515],[1.2019,0.99561],[1.2165,0.995],[1.231,0.99546],[1.2456,0.99531],[1.265,0.995],[1.2795,0.99546],[1.2941,0.99577],[1.3087,0.99546],[1.3232,0.99623],[1.3378,0.99653],[1.3523,0.99617],[1.362,0.99678],[1.3717,0.99607],[1.3863,0.99623],[1.4008,0.99623],[1.4154,0.99592],[1.4299,0.99623],[1.4445,0.99607],[1.4542,0.99653],[1.4687,0.99629],[1.4833,0.99653],[1.4978,0.99623],[1.5172,0.99684],[1.5318,0.99638],[1.5463,0.99653],[1.5609,0.99623],[1.5754,0.99638],[1.5948,0.99623],[1.6239,0.99592],[1.6433,0.99546],[1.6579,0.995],[1.6725,0.99592],[1.6919,0.99623],[1.721,0.99592],[1.7404,0.99592],[1.7598,0.99623],[1.7889,0.99592],[1.818,0.99592],[1.8374,0.99623],[1.8568,0.99592],[1.881,0.99577],[1.8907,0.995],[1.9053,0.99423],[1.9198,0.99331],[1.9344,0.99393],[1.9441,0.99469],[1.9586,0.99577],[1.9732,0.99546],[1.9926,0.99561],[2.0071,0.99669],[2.0217,0.99653],[2.0411,0.99684],[2.0605,0.99653],[2.075,0.9973],[2.0896,0.99669],[2.1041,0.99669],[2.1187,0.99653],[2.1429,0.99638],[2.1575,0.99561],[2.1721,0.99439],[2.1866,0.99285],[2.2012,0.99147],[2.2079,0.99055],[2.2157,0.99071],[2.2351,0.99071],[2.2545,0.99178],[2.2691,0.99285],[2.2836,0.99377],[2.2933,0.99423],[2.3079,0.995],[2.3225,0.99561],[2.3322,0.99607],[2.3438,0.99684],[2.3515,0.99623],[2.3661,0.99592],[2.3806,0.995],[2.4001,0.99377],[2.4195,0.99255],[2.4292,0.99193],[2.4389,0.99101],[2.4534,0.9904],[2.466,0.98979],[2.4757,0.98918],[2.5,0.9878]];
const mordeniteF = [[1.1,0.98617],[1.1486,0.98626],[1.1971,0.98657],[1.2456,0.98672],[1.2941,0.98678],[1.3329,0.98678],[1.362,0.98657],[1.3814,0.98626],[1.396,0.98549],[1.4057,0.98457],[1.4154,0.98417],[1.4299,0.98457],[1.4445,0.98519],[1.459,0.98549],[1.4833,0.98611],[1.5172,0.98657],[1.556,0.98687],[1.5948,0.98718],[1.6336,0.98739],[1.6725,0.98758],[1.7113,0.98764],[1.7501,0.98749],[1.7889,0.98739],[1.8277,0.98739],[1.8568,0.98733],[1.8665,0.98703],[1.8742,0.98641],[1.881,0.98488],[1.8907,0.98181],[1.9004,0.97936],[1.9101,0.97783],[1.9198,0.97844],[1.9295,0.98028],[1.9441,0.98151],[1.9635,0.98243],[1.9829,0.98381],[2.0023,0.98519],[2.0217,0.98611],[2.0508,0.98647],[2.0896,0.98672],[2.1187,0.98703],[2.1575,0.98709],[2.1963,0.98697],[2.2351,0.98703],[2.2642,0.98678],[2.2933,0.98672],[2.3322,0.98672],[2.3612,0.98611],[2.3904,0.98488],[2.4195,0.98365],[2.4486,0.98212],[2.4757,0.98074],[2.5,0.9795]];
const calcedoineF = [[1.1,0.97706],[1.1292,0.97783],[1.1583,0.97813],[1.1874,0.97875],[1.2262,0.97936],[1.2553,0.97997],[1.2844,0.98028],[1.3135,0.98059],[1.3426,0.98052],[1.362,0.98028],[1.3766,0.97967],[1.3863,0.97875],[1.396,0.97737],[1.4105,0.97568],[1.4222,0.97507],[1.4348,0.97568],[1.4493,0.9766],[1.4784,0.97752],[1.5172,0.97905],[1.556,0.98028],[1.5948,0.9812],[1.6336,0.98197],[1.6725,0.98258],[1.7016,0.98319],[1.7307,0.9835],[1.7598,0.98371],[1.7889,0.98396],[1.818,0.98411],[1.8374,0.98411],[1.8568,0.98421],[1.8713,0.98335],[1.881,0.9812],[1.8907,0.97875],[1.9004,0.9766],[1.9101,0.97507],[1.9198,0.97445],[1.9344,0.97476],[1.9538,0.97568],[1.9732,0.97691],[1.9926,0.97844],[2.012,0.97997],[2.0314,0.98135],[2.0605,0.98304],[2.0896,0.98365],[2.1187,0.98411],[2.1381,0.98427],[2.1575,0.98365],[2.1721,0.98212],[2.1866,0.97997],[2.1963,0.97829],[2.2108,0.97737],[2.2254,0.97721],[2.2448,0.97737],[2.2642,0.97752],[2.2836,0.97813],[2.303,0.97875],[2.3225,0.98028],[2.3419,0.9812],[2.3612,0.98151],[2.3778,0.98166],[2.4001,0.9812],[2.4195,0.98028],[2.4389,0.97936],[2.4583,0.97813],[2.4757,0.97721],[2.5,0.9758]];

// ---- layout ----
const panels = [
  { box: [78, 67, 535, 379],  x: [1.1, 2.5],  y: [0.9393, 1.005],   yMajor: yLabelsA, yStep: 0.002, dec: 2 },
  { box: [675, 67, 536, 379], x: [1.1, 2.5],  y: [0.9102, 1.005],   yMajor: yLabelsB, yStep: 0.005, dec: 2 },
  { box: [78, 523, 535, 380], x: [1.1, 2.5],  y: [0.9593, 1.0102],  yMajor: yLabelsC, yStep: 0.002, dec: 2 },
  { box: [676, 521, 533, 382], x: [1.2, 2.55], y: [0.98401, 1.00914], yMajor: yLabelsD, yStep: 0.001, dec: 3 },
  { box: [78, 988, 535, 380], x: [1.1, 2.5],  y: [0.990, 1.005],    yMajor: yLabelsE, yStep: 0.001, dec: 3 },
  { box: [675, 988, 536, 380], x: [1.1, 2.5], y: [0.970, 1.005],    yMajor: yLabelsF, yStep: 0.001, dec: 3 }
];

const FONT = 'Liberation Sans, Arial, Helvetica, sans-serif';
const BLUE = '#2a3cff', GREEN = '#3b7a1a', PINK = '#f2208a', ORANGE = '#ff7c14', RED = '#ff1010';
const TBLUE = '#0a0af0', TGREEN = '#0e8a0e', TPINK = '#ff1a72', TORANGE = '#ff9900';

function ticksBetween(lo, hi, step) {
  const out = [];
  const a = Math.ceil(lo / step - 1e-6), b = Math.floor(hi / step + 1e-6);
  for (let k = a; k <= b; k++) out.push(+(k * step).toFixed(6));
  return out;
}

const grids = [], xAxes = [], yAxes = [];
panels.forEach((p, gi) => {
  grids.push({ left: p.box[0], top: p.box[1], width: p.box[2], height: p.box[3],
    show: true, borderColor: '#000', borderWidth: 1, backgroundColor: 'transparent' });
  const xMajor = xLabels.filter(v => v >= p.x[0] && v <= p.x[1]);
  const xMinor = ticksBetween(p.x[0], p.x[1], 0.05);
  const yMinor = ticksBetween(p.y[0], p.y[1], p.yStep);
  ['bottom', 'top'].forEach(pos => {
    [[xMajor, 7], [xMinor, 4]].forEach(([vals, len], k) => {
      xAxes.push({
        type: 'value', gridIndex: gi, position: pos, min: p.x[0], max: p.x[1],
        axisLine: { show: false }, splitLine: { show: false },
        axisTick: { show: true, inside: true, length: len, customValues: vals, lineStyle: { color: '#000', width: 1 } },
        axisLabel: { show: pos === 'bottom' && k === 0, customValues: xMajor, margin: 8,
          formatter: v => v.toFixed(1), fontSize: 15, color: '#111', fontFamily: FONT }
      });
    });
  });
  ['left', 'right'].forEach(pos => {
    [[p.yMajor, 7], [yMinor, 4]].forEach(([vals, len], k) => {
      yAxes.push({
        type: 'value', gridIndex: gi, position: pos, min: p.y[0], max: p.y[1],
        axisLine: { show: false }, splitLine: { show: false },
        axisTick: { show: true, inside: true, length: len, customValues: vals, lineStyle: { color: '#000', width: 1 } },
        axisLabel: { show: pos === 'left' && k === 0, customValues: p.yMajor, margin: 5,
          formatter: v => v.toFixed(p.dec), fontSize: 15, color: '#111', fontFamily: FONT }
      });
    });
  });
});

function line(gi, data, color, smooth, bands) {
  const s = {
    type: 'line', xAxisIndex: gi * 4, yAxisIndex: gi * 4, data: data,
    symbol: 'none', showSymbol: false, silent: true, clip: true,
    smooth: smooth ? 0.3 : false, smoothMonotone: 'x',
    lineStyle: { color: color, width: 1 }, z: 3
  };
  if (bands) {
    s.markLine = {
      silent: true, symbol: ['none', 'none'], label: { show: false },
      lineStyle: { color: '#3a3a3a', width: 1, type: [7, 3, 1, 3] },
      data: bands.map(v => ({ xAxis: v }))
    };
  }
  return s;
}

const series = [
  line(0, zeoA1, '#000', false, bandsA),
  line(0, zeoA2, '#000', false),
  line(0, mordeniteA, BLUE, true),
  line(0, clinoA, GREEN, true),
  line(0, bassaniteA, PINK, true),
  line(1, femgB, '#000', true, bandsB),
  line(1, vermiculiteB, BLUE, true),
  line(1, saponiteB, PINK, true),
  line(1, sepioliteB, GREEN, true),
  line(1, nontroniteB, ORANGE, true),
  line(2, smAlC, '#000', false, bandsC),
  line(3, contD1, '#000', false, bandsD),
  line(3, contD2, '#000', false),
  line(3, montmorilloniteD, RED, true),
  line(3, nontroniteD, GREEN, true),
  line(3, saponiteD, BLUE, true),
  line(4, sulfE, '#000', false, bandsE),
  line(4, kieseriteE, BLUE, true),
  line(4, szomolnokiteE, GREEN, true),
  line(5, opalF1, '#000', false),
  line(5, opalF2, '#000', false),
  line(5, mordeniteF, BLUE, true),
  line(5, calcedoineF, GREEN, true)
];

function titleBox(x, y, w, h, text) {
  return [
    { type: 'rect', z: 100, shape: { x: x, y: y, width: w, height: h },
      style: { fill: '#fff', stroke: '#000', lineWidth: 2.5 } },
    { type: 'text', z: 101, x: x + w / 2, y: y + h / 2 + 2,
      style: { text: text, fill: '#000', font: 'bold 28px ' + FONT, textAlign: 'center', textVerticalAlign: 'middle', align: 'center', verticalAlign: 'middle' } }
  ];
}
function label(x, y, text, color, size) {
  return { type: 'text', z: 90, x: x, y: y,
    style: { text: text, fill: color, font: 'bold ' + (size || 26) + 'px ' + FONT,
      textAlign: 'left', textVerticalAlign: 'middle', align: 'left', verticalAlign: 'middle' } };
}

const graphics = [].concat(
  titleBox(180, 15, 349, 59, 'Zéolite'),
  titleBox(778, 15, 349, 59, 'Smectite Fe/Mg'),
  titleBox(180, 481, 349, 58, 'Smectite Al'),
  titleBox(685, 481, 518, 58, 'Smectite Al – continuum'),
  titleBox(180, 938, 349, 58, 'Sulfate mono-hydraté'),
  titleBox(778, 938, 349, 58, 'Opaline'),
  [
    label(435, 337, 'Mordenite', TBLUE),
    label(435, 384, 'Clinoptilolite', TGREEN),
    label(435, 431, 'Bassanite', TPINK),
    label(683, 168, 'Vermiculite', TBLUE),
    label(683, 215, 'Saponite', TPINK),
    label(833, 367, 'Sépiolite', TGREEN),
    label(833, 414, 'Nontronite', TORANGE),
    label(802, 727, 'Mont-', TPINK),
    label(802, 759, 'morillonite', TPINK),
    label(800, 816, 'Nontronite', TGREEN),
    label(800, 863, 'Saponite', TBLUE),
    label(103, 1065, 'Kieserite', TBLUE),
    label(103, 1112, 'Szomolnokite', TGREEN),
    label(833, 1297, 'Mordenite', TBLUE),
    label(833, 1345, 'Calcédoine (opale)', TGREEN),
    label(102, 423, 'A', '#000', 46),
    label(701, 423, 'B', '#000', 46),
    label(102, 876, 'C', '#000', 46),
    label(701, 876, 'D', '#000', 46),
    label(102, 1339, 'E', '#000', 46),
    label(701, 1339, 'F', '#000', 46),
    { type: 'text', z: 90, x: 28, y: 712, rotation: Math.PI / 2,
      style: { text: 'Reflectance relative', fill: '#000', font: 'bold 28px ' + FONT,
        textAlign: 'center', textVerticalAlign: 'middle', align: 'center', verticalAlign: 'middle' } },
    { type: 'text', z: 90, x: 640, y: 1415,
      style: { text: 'microns', fill: '#000', font: 'bold 28px ' + FONT,
        textAlign: 'center', textVerticalAlign: 'middle', align: 'center', verticalAlign: 'middle' } }
  ]
);

const chart = echarts.init(document.getElementById('chart'), null, { renderer: 'canvas' });
chart.setOption({
  animation: false,
  backgroundColor: '#fff',
  grid: grids,
  xAxis: xAxes,
  yAxis: yAxes,
  series: series,
  graphic: graphics
});
</script>
</body>
</html>
